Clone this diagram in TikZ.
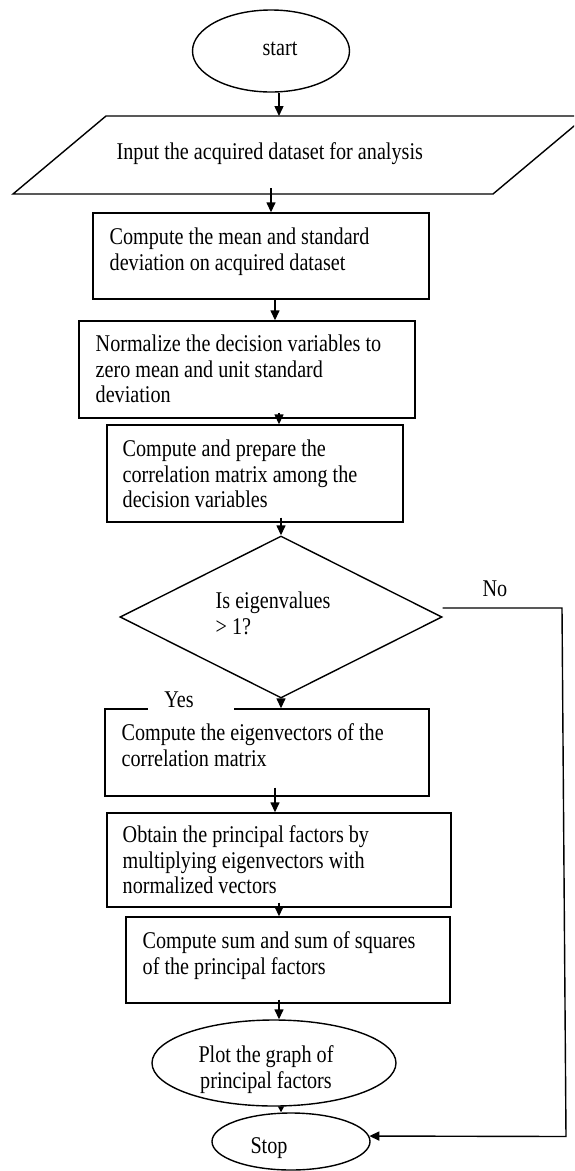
\documentclass[tikz,border=0pt]{standalone}
\usepackage{fontspec}
\setmainfont[FakeStretch=0.84]{Liberation Serif}
\usetikzlibrary{shapes.geometric,arrows.meta,calc}
\newcommand{\fsz}{\fontsize{24}{25.6}\selectfont}
\begin{document}
\begin{tikzpicture}[x=1pt,y=-1pt,
  line width=1.4pt,
  box/.style={draw, rectangle, inner sep=0pt},
  oval/.style={draw, ellipse, inner sep=0pt},
  txt/.style={anchor=north west, inner sep=0pt, align=left, font=\fsz},
  ctxt/.style={anchor=base, inner sep=0pt, align=center, font=\fsz},
  arr/.style={-{Triangle[length=10pt,width=9pt]}},
  smallarr/.style={-{Triangle[length=6pt,width=6pt]}},
]
\useasboundingbox (0,0) rectangle (574,1171);
\clip (0,0) rectangle (574,1171);

% start
\node[oval, minimum width=157pt, minimum height=82pt] (start) at (271,51) {};
\node[ctxt] (tstart) at (280,55) {start};

% input parallelogram
\draw (13,194) -- (106,116) -- (586,116) -- (493,194) -- cycle;
\coordinate (inTop) at (279,116);
\coordinate (inTick) at (271,188);
\node[txt] (tin) at (116,141) {\strut Input the acquired dataset for analysis};

% boxes
\node[box, minimum width=336pt, minimum height=86pt] (b1) at (261,256) {};
\node[txt] (t1) at (109,226) {\strut Compute the mean and standard\\deviation on acquired dataset};

\node[box, minimum width=336pt, minimum height=97pt] (b2) at (247,369.5) {};
\node[txt] (t2) at (95,333) {\strut Normalize the decision variables to\\zero mean and unit standard\\deviation};

\node[box, minimum width=296pt, minimum height=97pt] (b3) at (255,473.5) {};
\node[txt] (t3) at (122,438) {\strut Compute and prepare the\\correlation matrix among the\\decision variables};

\node[draw, diamond, inner sep=0pt, minimum width=322pt, minimum height=162pt] (dia) at (281,617) {};
\node[txt] (td) at (215,590) {\strut Is eigenvalues\\> 1?};

\node[box, minimum width=324pt, minimum height=87pt] (b4) at (267,752.5) {};
\node[txt] (t4) at (121,722) {\strut Compute the eigenvectors of the\\correlation matrix};

\node[box, minimum width=344pt, minimum height=94pt] (b5) at (279,860) {};
\node[txt] (t5) at (122,824) {\strut Obtain the principal factors by\\multiplying eigenvectors with\\normalized vectors};

\node[box, minimum width=324pt, minimum height=86pt] (b6) at (288,960) {};
\node[txt] (t6) at (142,930) {\strut Compute sum and sum of squares\\of the principal factors};

\node[oval, minimum width=244pt, minimum height=86pt] (plot) at (274,1063) {};
\node[txt, anchor=north, align=center] (tplot) at (266,1044) {\strut Plot the graph of\\principal factors};

\node[oval, minimum width=158pt, minimum height=57pt] (stop) at (291,1141.5) {};
\node[ctxt] (tstop) at (269,1153) {Stop};

% labels
\fill[white] (148,689) rectangle (234,713);
\node[ctxt] (yes) at (179,707) {Yes};
\node[ctxt] (no) at (495,596) {No};

% connectors
\draw[arr] (start.south -| inTop) -- (inTop);
\draw[arr] (inTick) -- (inTick |- b1.north);
\draw[arr] ([xshift=14pt]b1.south) -- ([xshift=14pt]b1.south |- b2.north);
\draw[arr] ([xshift=32pt,yshift=6pt]b2.south) -- ([xshift=32pt]b2.south |- b3.north);
\draw[arr] ([xshift=26pt,yshift=5pt]b3.south) -- (dia.north);
\draw[arr] (dia.south) -- (dia.south |- b4.north);
\draw[arr] ([xshift=8pt,yshift=9pt]b4.south) -- ([xshift=8pt]b4.south |- b5.north);
\draw[arr] ([yshift=5pt]b5.south) -- (b5.south |- b6.north);
\draw[arr] ([xshift=-9pt,yshift=4pt]b6.south) -- ([xshift=-9pt]b6.south |- plot.north);
\draw[smallarr] ([xshift=7pt]plot.south) -- ([xshift=7pt]plot.south |- stop.north);
\coordinate (nc1) at (562,608);
\coordinate (nc2) at (566,1136.5);
\draw[arr] ([yshift=9pt]dia.east) -- (nc1) -- (nc2) -- (stop.4);
\end{tikzpicture}
\end{document}
